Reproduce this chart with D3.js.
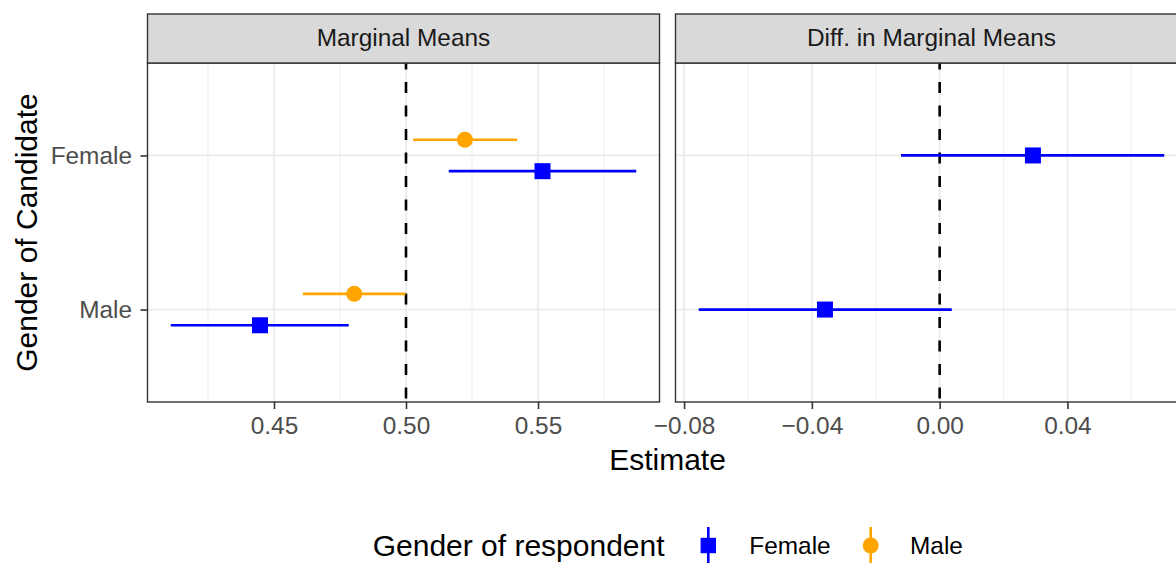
<!DOCTYPE html>
<html>
<head>
<meta charset="utf-8">
<script src="https://cdn.jsdelivr.net/npm/d3@7"></script>
<style>
  body { margin: 0; background: #fff; }
  svg { display: block; font-family: "Liberation Sans", Arial, Helvetica, sans-serif; }
</style>
</head>
<body>
<script>
// data
var candidates = ["Female", "Male"];          // y categories (top to bottom)
var candIndex = [2, 1];                       // discrete positions
var respondents = ["Female", "Male"];
var respColors = ["#0000FF", "#FFA500"];

// marginal means, by candidate gender (Female, Male)
var mmFemaleEst = [0.5517, 0.4447];
var mmFemaleLow = [0.5162, 0.4109];
var mmFemaleHigh = [0.5872, 0.4783];
var mmMaleEst = [0.5223, 0.4804];
var mmMaleLow = [0.5027, 0.4609];
var mmMaleHigh = [0.5421, 0.4998];

// difference in marginal means (Female resp - Male resp)
var diffEst = [0.0292, -0.0359];
var diffLow = [-0.0121, -0.0754];
var diffHigh = [0.0703, 0.0038];

var mmTicks = [0.45, 0.50, 0.55];
var mmMinor = [0.425, 0.475, 0.525, 0.575];
var diffTicks = [-0.08, -0.04, 0.00, 0.04, 0.08];
var diffMinor = [-0.06, -0.02, 0.02, 0.06];

var W = 1176, H = 563;
var stripTop = 14, panelTop = 63, panelBottom = 402;
var panelW = 512, leftX0 = 147.5, gap = 16;

var svg = d3.select("body").append("svg")
  .attr("width", W).attr("height", H);

// y scale shared by both facets (discrete axis with 0.6 expansion)
var y = d3.scaleLinear().domain([0.4, 2.6]).range([panelBottom, panelTop]);
var dodge = 0.102;

function expanded(lo, hi) {
  var pad = (hi - lo) * 0.05;
  return [lo - pad, hi + pad];
}

var mmRows = [];
candidates.forEach(function (c, i) {
  mmRows.push({ pos: candIndex[i] - dodge, est: mmFemaleEst[i], lo: mmFemaleLow[i], hi: mmFemaleHigh[i], g: 0 });
  mmRows.push({ pos: candIndex[i] + dodge, est: mmMaleEst[i], lo: mmMaleLow[i], hi: mmMaleHigh[i], g: 1 });
});
var diffRows = candidates.map(function (c, i) {
  return { pos: candIndex[i], est: diffEst[i], lo: diffLow[i], hi: diffHigh[i], g: 0 };
});

var facets = [
  { title: "Marginal Means", rows: mmRows, ticks: mmTicks, minor: mmMinor, ref: 0.5,
    domain: expanded(d3.min(mmRows, d => d.lo), d3.max(mmRows, d => d.hi)) },
  { title: "Diff. in Marginal Means", rows: diffRows, ticks: diffTicks, minor: diffMinor, ref: 0,
    domain: expanded(d3.min(diffRows, d => d.lo), d3.max(diffRows, d => d.hi)) }
];

var fmt = d3.format(".2f");

facets.forEach(function (f, k) {
  var x0 = leftX0 + k * (panelW + gap);
  var x = d3.scaleLinear().domain(f.domain).range([x0, x0 + panelW]);
  var inDomain = v => v >= f.domain[0] && v <= f.domain[1];
  var ticks = f.ticks.filter(inDomain);
  var g = svg.append("g");

  // panel background + grid
  g.append("rect").attr("x", x0).attr("y", panelTop)
    .attr("width", panelW).attr("height", panelBottom - panelTop).attr("fill", "#fff");

  g.selectAll(".minor").data(f.minor.filter(inDomain))
    .enter().append("line")
    .attr("x1", d => x(d)).attr("x2", d => x(d))
    .attr("y1", panelTop).attr("y2", panelBottom)
    .attr("stroke", "#EBEBEB").attr("stroke-width", 0.9);

  g.selectAll(".major").data(ticks)
    .enter().append("line")
    .attr("x1", d => x(d)).attr("x2", d => x(d))
    .attr("y1", panelTop).attr("y2", panelBottom)
    .attr("stroke", "#EBEBEB").attr("stroke-width", 1.8);

  g.selectAll(".hmajor").data(candIndex)
    .enter().append("line")
    .attr("x1", x0).attr("x2", x0 + panelW)
    .attr("y1", d => y(d)).attr("y2", d => y(d))
    .attr("stroke", "#EBEBEB").attr("stroke-width", 1.8);

  // reference line
  g.append("line")
    .attr("x1", x(f.ref)).attr("x2", x(f.ref))
    .attr("y1", panelTop).attr("y2", panelBottom)
    .attr("stroke", "#000").attr("stroke-width", 2.6)
    .attr("stroke-dasharray", "11,12.5").attr("stroke-dashoffset", 4.5);

  // error bars
  g.selectAll(".ci").data(f.rows).enter().append("line")
    .attr("x1", d => x(d.lo)).attr("x2", d => x(d.hi))
    .attr("y1", d => y(d.pos)).attr("y2", d => y(d.pos))
    .attr("stroke", d => respColors[d.g]).attr("stroke-width", 2.7);

  // points
  g.selectAll(".sq").data(f.rows.filter(d => d.g === 0)).enter().append("rect")
    .attr("x", d => x(d.est) - 8).attr("y", d => y(d.pos) - 8)
    .attr("width", 16).attr("height", 16).attr("fill", respColors[0]);
  g.selectAll(".pt").data(f.rows.filter(d => d.g === 1)).enter().append("circle")
    .attr("cx", d => x(d.est)).attr("cy", d => y(d.pos)).attr("r", 8)
    .attr("fill", respColors[1]);

  // panel border
  g.append("rect").attr("x", x0).attr("y", panelTop)
    .attr("width", panelW).attr("height", panelBottom - panelTop)
    .attr("fill", "none").attr("stroke", "#333333").attr("stroke-width", 1.4);

  // strip
  g.append("rect").attr("x", x0).attr("y", stripTop)
    .attr("width", panelW).attr("height", panelTop - stripTop)
    .attr("fill", "#D9D9D9").attr("stroke", "#333333").attr("stroke-width", 1.4);
  g.append("text").attr("x", x0 + panelW / 2).attr("y", 46.3)
    .attr("text-anchor", "middle").attr("font-size", 24.4).attr("fill", "#1A1A1A")
    .text(f.title);

  // x axis
  var ax = g.append("g").attr("transform", "translate(0," + panelBottom + ")")
    .call(d3.axisBottom(x).tickValues(ticks).tickFormat(fmt).tickSize(7).tickPadding(7.5));
  ax.select(".domain").remove();
  ax.selectAll(".tick line").attr("stroke", "#333333").attr("stroke-width", 1.6);
  ax.selectAll(".tick text").attr("font-size", 24.4).attr("fill", "#4D4D4D")
    .attr("font-family", null);
});

// y axis on the left facet
var yAx = svg.append("g").attr("transform", "translate(" + leftX0 + ",0)")
  .call(d3.axisLeft(y).tickValues(candIndex).tickFormat((d, i) => candidates[i]).tickSize(7).tickPadding(8.5));
yAx.select(".domain").remove();
yAx.selectAll(".tick line").attr("stroke", "#333333").attr("stroke-width", 1.6);
yAx.selectAll(".tick text").attr("font-size", 24.4).attr("fill", "#4D4D4D")
  .attr("font-family", null);

// axis titles
svg.append("text").attr("x", leftX0 + (2 * panelW + gap) / 2).attr("y", 470)
  .attr("text-anchor", "middle").attr("font-size", 30).attr("fill", "#000").text("Estimate");
svg.append("text")
  .attr("transform", "translate(36.5," + (panelTop + panelBottom) / 2 + ") rotate(-90)")
  .attr("text-anchor", "middle").attr("font-size", 30).attr("fill", "#000").text("Gender of Candidate");

// legend
var leg = svg.append("g");
leg.append("text").attr("x", 372.7).attr("y", 555.5)
  .attr("font-size", 30).attr("fill", "#000").text("Gender of respondent");
var keyX = [708.3, 870.7], labX = [749.3, 910], keyY = 545.5;
respondents.forEach(function (r, i) {
  leg.append("line").attr("x1", keyX[i]).attr("x2", keyX[i])
    .attr("y1", 527).attr("y2", 563)
    .attr("stroke", respColors[i]).attr("stroke-width", 2.6);
  if (i === 0) {
    leg.append("rect").attr("x", keyX[i] - 7.7).attr("y", keyY - 7.7)
      .attr("width", 15.4).attr("height", 15.4).attr("fill", respColors[i]);
  } else {
    leg.append("circle").attr("cx", keyX[i]).attr("cy", keyY).attr("r", 8)
      .attr("fill", respColors[i]);
  }
  leg.append("text").attr("x", labX[i]).attr("y", 554)
    .attr("font-size", 24.4).attr("fill", "#000").text(r);
});
</script>
</body>
</html>
